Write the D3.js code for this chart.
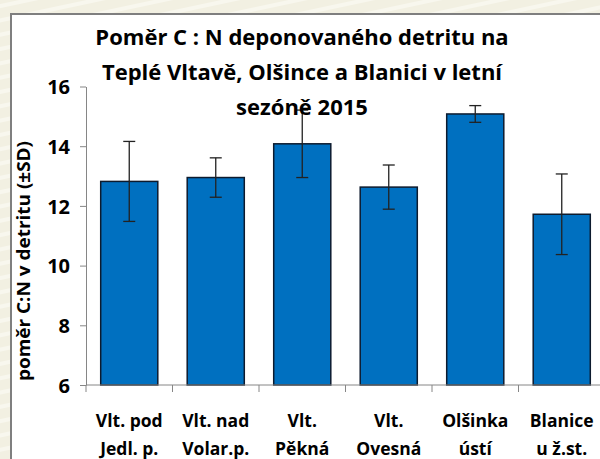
<!DOCTYPE html>
<html>
<head>
<meta charset="utf-8">
<script src="https://cdn.jsdelivr.net/npm/d3@7"></script>
<style>
  body { margin: 0; background: #f1efe1; }
  svg { display: block; }
  text { font-family: "Open Sans", Lato, sans-serif; font-weight: bold; fill: #000; }
</style>
</head>
<body>
<svg id="canvas" width="600" height="459"></svg>
<script>
// dati
const lokality1 = ["Vlt. pod", "Vlt. nad", "Vlt.", "Vlt.", "Olšinka", "Blanice"];
const lokality2 = ["Jedl. p.", "Volar.p.", "Pěkná", "Ovesná", "ústí", "u ž.st."];
const prumery = [12.82, 12.95, 14.08, 12.63, 15.08, 11.72];
const odchylky = [1.34, 0.66, 1.13, 0.74, 0.28, 1.35];
const tickyY = [6, 8, 10, 12, 14, 16];
const titulek = ["Poměr C : N deponovaného detritu na", "Teplé Vltavě, Olšince a Blanici v letní", "sezóně 2015"];

const svg = d3.select("#canvas");

// pozadí s jemnými pruhy
const defs = svg.append("defs");
const vzor = defs.append("pattern")
  .attr("id", "pruhy")
  .attr("width", 60).attr("height", 14)
  .attr("patternUnits", "userSpaceOnUse")
  .attr("patternTransform", "rotate(-12)");
vzor.append("rect").attr("width", 60).attr("height", 14).attr("fill", "#f2f0e2");
vzor.append("rect").attr("y", 4).attr("width", 60).attr("height", 4).attr("fill", "#f8f7ee");
svg.append("rect").attr("width", 600).attr("height", 459).attr("fill", "url(#pruhy)");

// bílý rámeček grafu
svg.append("rect")
  .attr("x", 11).attr("y", 14)
  .attr("width", 620).attr("height", 480)
  .attr("fill", "#fff")
  .attr("stroke", "#7f7f7f")
  .attr("stroke-width", 2);

const x = d3.scaleBand()
  .domain(d3.range(prumery.length))
  .range([86, 605])
  .paddingInner(0.34)
  .paddingOuter(0.17);

const y = d3.scaleLinear()
  .domain([6, 16])
  .range([385, 86.5]);

// osa Y
const osaY = svg.append("g")
  .attr("transform", "translate(86,0)")
  .call(d3.axisLeft(y).tickValues(tickyY).tickSize(6).tickSizeOuter(0).tickPadding(10));
osaY.select(".domain").attr("stroke", "#868686");
osaY.selectAll(".tick line").attr("stroke", "#868686");
osaY.selectAll(".tick text")
  .style("font-size", "20px")
  .attr("dy", "0.36em");

// sloupce
svg.append("g").selectAll("rect")
  .data(prumery)
  .join("rect")
  .attr("x", (d, i) => x(i))
  .attr("y", d => y(d))
  .attr("width", x.bandwidth())
  .attr("height", d => y(6) - y(d))
  .attr("fill", "#0070c0")
  .attr("stroke", "#0d1b2e")
  .attr("stroke-width", 1.5);

// osa X
const krok = x.step();
const zacatky = d3.range(prumery.length + 1).map(i => 86 + i * krok);
svg.append("line")
  .attr("x1", 86).attr("x2", 605)
  .attr("y1", y(6)).attr("y2", y(6))
  .attr("stroke", "#868686");
svg.append("g").selectAll("line")
  .data(zacatky)
  .join("line")
  .attr("x1", d => d).attr("x2", d => d)
  .attr("y1", y(6)).attr("y2", y(6) + 7)
  .attr("stroke", "#868686");

const popisky = svg.append("g");
lokality1.forEach((t, i) => {
  const cx = x(i) + x.bandwidth() / 2;
  popisky.append("text")
    .attr("x", cx).attr("y", 427)
    .attr("text-anchor", "middle")
    .style("font-size", "17.5px")
    .text(t);
  popisky.append("text")
    .attr("x", cx).attr("y", 455)
    .attr("text-anchor", "middle")
    .style("font-size", "17.5px")
    .text(lokality2[i]);
});

// chybové úsečky
const chyby = svg.append("g").attr("stroke", "#222").attr("stroke-width", 1.3);
prumery.forEach((m, i) => {
  const cx = x(i) + x.bandwidth() / 2;
  const horni = y(m + odchylky[i]);
  const dolni = y(m - odchylky[i]);
  chyby.append("line").attr("x1", cx).attr("x2", cx).attr("y1", horni).attr("y2", dolni);
  chyby.append("line").attr("x1", cx - 6).attr("x2", cx + 6).attr("y1", horni).attr("y2", horni);
  chyby.append("line").attr("x1", cx - 6).attr("x2", cx + 6).attr("y1", dolni).attr("y2", dolni);
});

// název osy Y
svg.append("text")
  .attr("transform", "translate(30,261) rotate(-90)")
  .attr("text-anchor", "middle")
  .attr("textLength", 240)
  .attr("lengthAdjust", "spacingAndGlyphs")
  .style("font-size", "17px")
  .text("poměr C:N v detritu (±SD)");

// titulek
titulek.forEach((t, i) => {
  svg.append("text")
    .attr("x", 302)
    .attr("y", 45 + i * 35)
    .attr("text-anchor", "middle")
    .style("font-size", "22px")
    .text(t);
});
</script>
</body>
</html>
